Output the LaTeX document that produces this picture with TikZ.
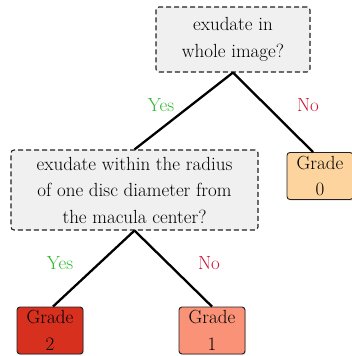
\documentclass[tikz,border=0pt]{standalone}
\usetikzlibrary{calc,shadows}
\definecolor{qfill}{HTML}{F0F0F0}
\definecolor{qdraw}{HTML}{222222}
\definecolor{gzero}{HTML}{FDD49E}
\definecolor{gone}{HTML}{FA9277}
\definecolor{gtwo}{HTML}{D7301F}
\definecolor{yescol}{HTML}{2DB82D}
\definecolor{nocol}{HTML}{CC1133}
\begin{document}
\begin{tikzpicture}[x=1pt,y=-1pt,
  txt/.style={font=\fontsize{19}{26.5}\selectfont, align=center, inner sep=0pt},
  question/.style={txt, draw=qdraw, fill=qfill, dash pattern=on 5pt off 3pt, line width=1.1pt, rounded corners=3pt},
  gradebox/.style={txt, draw=qdraw, line width=0.9pt, rounded corners=3pt, minimum width=66pt, minimum height=47pt,
     drop shadow={shadow xshift=1pt, shadow yshift=-1.2pt, opacity=0.25}},
  edge/.style={line width=2.3pt, black},
  yeslab/.style={txt, text=yescol},
  nolab/.style={txt, text=nocol}]
\useasboundingbox (0,0) rectangle (351,356);
\node[question, minimum width=154pt, minimum height=65pt] (top) at (233,39.5) {exudate in\\whole image?};
\node[question, minimum width=247pt, minimum height=80pt] (mid) at (134.5,190) {exudate within the radius\\of one disc diameter from\\the macula center?};
\node[gradebox, fill=gzero] (g0) at (320,176) {Grade\\0};
\node[gradebox, fill=gtwo] (g2) at (50,330.5) {Grade\\2};
\node[gradebox, fill=gone] (g1) at (212,330.5) {Grade\\1};
\draw[edge] (top.south) -- (mid.north);
\draw[edge] (top.south) -- ($(g0.north)+(-7,0)$);
\draw[edge] (mid.south) -- ($(g2.north)+(3,0)$);
\draw[edge] (mid.south) -- (g1.north);
\node[yeslab] (y1) at (161,105) {Yes};
\node[nolab] (n1) at (308,105) {No};
\node[yeslab] (y2) at (60,263) {Yes};
\node[nolab] (n2) at (209,263) {No};
\end{tikzpicture}
\end{document}
